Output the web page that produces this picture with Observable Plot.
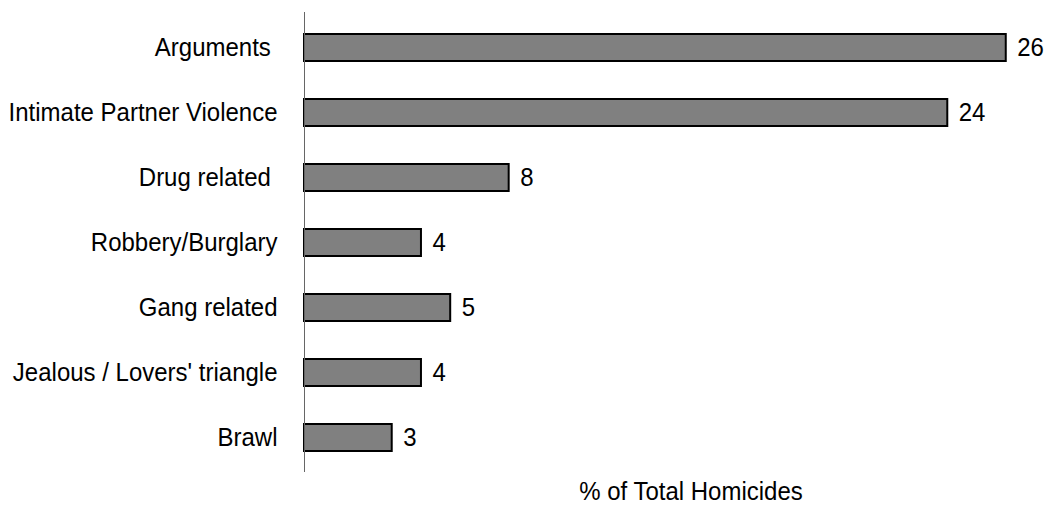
<!DOCTYPE html>
<html>
<head>
<meta charset="utf-8">
<script src="https://cdn.jsdelivr.net/npm/d3@7"></script>
<script src="https://cdn.jsdelivr.net/npm/@observablehq/plot@0.6"></script>
<style>
  html, body { margin: 0; padding: 0; background: #fff; }
  #chart svg { display: block; }
</style>
</head>
<body>
<div id="chart"></div>
<script>
// Categories (trailing no-break spaces as in the original labels)
const categories = [
  "Arguments\u00a0",
  "Intimate Partner Violence",
  "Drug related\u00a0",
  "Robbery/Burglary",
  "Gang related",
  "Jealous / Lovers' triangle",
  "Brawl"
];
// Bar lengths
const barValues = [24, 22, 7, 4, 5, 4, 3];
// Value labels printed next to the bars
const valueLabels = ["26", "24", "8", "4", "5", "4", "3"];
const xLabel = "% of Total Homicides";

const data = categories.map((c, i) => ({category: c, value: barValues[i], label: valueLabels[i]}));

const fontFamily = "'Liberation Sans', Arial, Helvetica, sans-serif";

const chart = Plot.plot({
  width: 1052,
  height: 510,
  marginLeft: 304,
  marginRight: 17,
  marginTop: 12,
  marginBottom: 38,
  style: {fontFamily, fontSize: "24px", color: "#000", background: "#fff", overflow: "visible"},
  x: {domain: [0, 25], axis: null},
  y: {domain: categories, paddingInner: 0.59, paddingOuter: 0.29, label: null},
  marks: [
    Plot.axisY({tickSize: 0, tickPadding: 27, fontSize: 24, label: null, fill: "#000"}),
    Plot.barX(data, {y: "category", x: "value", fill: "#808080", stroke: "#000", strokeWidth: 2}),
    Plot.ruleX([0], {stroke: "#666", strokeWidth: 1}),
    Plot.text(data, {y: "category", x: "value", text: "label", textAnchor: "start", dx: 11, fontSize: 24, fill: "#000"}),
    Plot.text([xLabel], {frameAnchor: "bottom", text: d => d, dx: 21, dy: 19, lineAnchor: "middle", fontSize: 24, fill: "#000"})
  ]
});

// The original lettering is slightly taller than it is wide: stretch text vertically
d3.select(chart).selectAll("text").each(function () {
  const t = this.getAttribute("transform") || "";
  this.setAttribute("transform", (t + " scale(1,1.1)").trim());
});

document.getElementById("chart").appendChild(chart);
</script>
</body>
</html>
